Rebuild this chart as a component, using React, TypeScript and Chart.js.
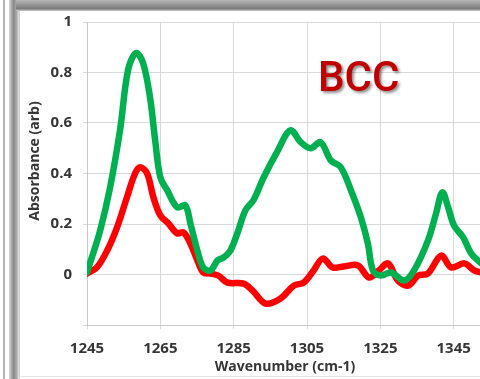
import React, { useEffect, useRef } from "react";
import { Chart, registerables } from "chart.js";

Chart.register(...registerables);

// FTIR absorbance spectra (wavenumber in cm-1)
const greenWavenumbers = [
  1245.0, 1245.8, 1248.6, 1251.3, 1254.0, 1256.2, 1258.4, 1260.3, 1262.2, 1263.6,
  1265.0, 1266.9, 1269.6, 1271.8, 1273.2, 1275.1, 1276.7, 1278.7, 1280.6, 1282.2,
  1284.1, 1286.0, 1288.2, 1290.4, 1293.2, 1297.0, 1300.5, 1303.3, 1306.0, 1308.7,
  1311.5, 1314.2, 1317.0, 1319.7, 1321.6, 1323.0, 1325.2, 1327.9, 1331.5, 1334.2,
  1338.0, 1340.2, 1341.9, 1343.5, 1345.1, 1347.6, 1349.8, 1352.5,
];
const greenAbsorbance = [
  0.008, 0.044, 0.175, 0.345, 0.571, 0.81, 0.877, 0.837, 0.7, 0.53,
  0.385, 0.333, 0.266, 0.274, 0.202, 0.095, 0.028, 0.016, 0.056, 0.067,
  0.095, 0.163, 0.254, 0.294, 0.385, 0.49, 0.571, 0.524, 0.5, 0.524,
  0.452, 0.425, 0.333, 0.226, 0.123, 0.016, -0.004, 0.008, -0.024, 0.016,
  0.135, 0.242, 0.325, 0.266, 0.194, 0.147, 0.083, 0.044,
];

const redWavenumbers = [
  1245.0, 1247.7, 1250.5, 1253.2, 1255.9, 1258.1, 1259.5, 1261.4, 1263.1, 1265.0,
  1267.2, 1269.6, 1271.3, 1273.2, 1275.1, 1276.7, 1278.7, 1280.8, 1283.3, 1287.7,
  1290.1, 1293.7, 1297.8, 1301.4, 1304.1, 1306.8, 1309.3, 1312.0, 1315.0, 1318.9,
  1321.9, 1324.6, 1327.1, 1329.8, 1332.6, 1335.3, 1338.0, 1341.6, 1344.3, 1347.9,
  1350.6, 1352.5,
];
const redAbsorbance = [
  0.004, 0.028, 0.095, 0.187, 0.306, 0.4, 0.425, 0.4, 0.306, 0.234,
  0.202, 0.163, 0.167, 0.123, 0.056, 0.008, 0.004, -0.004, -0.032, -0.036,
  -0.063, -0.115, -0.095, -0.044, -0.032, 0.016, 0.063, 0.028, 0.032, 0.036,
  -0.012, 0.016, 0.044, -0.024, -0.044, -0.004, 0.004, 0.075, 0.028, 0.044,
  0.016, 0.008,
];

const xTickValues = [1245, 1265, 1285, 1305, 1325, 1345];
const yTickValues = [-0.2, 0, 0.2, 0.4, 0.6, 0.8, 1];

const xTitle = "Wavenumber (cm-1)";
const yTitle = "Absorbance (arb)";
const phaseLabel = "BCC";

const TEXT = "#363636";
const GRID = "#d9d9d9";

const toPoints = (xs: number[], ys: number[]) => xs.map((x, i) => ({ x, y: ys[i] }));

const labelsPlugin = {
  id: "spectrumLabels",
  afterDraw(chart: any) {
    const { ctx, chartArea } = chart;
    ctx.save();
    // axis titles
    ctx.fillStyle = TEXT;
    ctx.font = "bold 14px 'Open Sans'";
    ctx.textAlign = "center";
    ctx.textBaseline = "middle";
    ctx.fillText(xTitle, (chartArea.left + chartArea.right) / 2, 367);
    ctx.save();
    ctx.translate(35, 161);
    ctx.rotate(-Math.PI / 2);
    ctx.fillText(yTitle, 0, 0);
    ctx.restore();
    // phase label with drop shadow
    ctx.font = "500 42px Roboto";
    ctx.textAlign = "left";
    ctx.textBaseline = "alphabetic";
    ctx.shadowColor = "rgba(0,0,0,0.45)";
    ctx.shadowOffsetX = 2;
    ctx.shadowOffsetY = 2;
    ctx.shadowBlur = 3;
    ctx.fillStyle = "#c00000";
    ctx.fillText(phaseLabel, 318, 91);
    ctx.restore();
  },
};

export default function App() {
  const canvasRef = useRef<HTMLCanvasElement | null>(null);

  useEffect(() => {
    if (!canvasRef.current) return;
    const lineStyle = {
      borderWidth: 6.5,
      pointRadius: 0,
      tension: 0.35,
      fill: false,
      borderJoinStyle: "round",
      borderCapStyle: "round",
    };
    const chart = new Chart(canvasRef.current, {
      type: "line",
      data: {
        datasets: [
          {
            data: toPoints(greenWavenumbers, greenAbsorbance),
            borderColor: "#00b050",
            ...lineStyle,
          },
          {
            data: toPoints(redWavenumbers, redAbsorbance),
            borderColor: "#ff0000",
            ...lineStyle,
          },
        ],
      },
      options: {
        animation: false,
        responsive: false,
        maintainAspectRatio: false,
        layout: { padding: { top: 22, right: 17, left: 0, bottom: 0 } },
        plugins: { legend: { display: false }, tooltip: { enabled: false } },
        scales: {
          x: {
            type: "linear",
            min: 1245,
            max: 1353,
            afterBuildTicks: (s: any) => {
              s.ticks = xTickValues.map((v) => ({ value: v }));
            },
            afterFit: (s: any) => {
              s.height = 54;
            },
            grid: { color: GRID, tickLength: 4, drawTicks: true },
            border: { color: "#c8c8c8" },
            ticks: {
              color: TEXT,
              font: { family: "'Open Sans'", size: 15, weight: "bold" },
              padding: 11,
              maxRotation: 0,
              autoSkip: false,
              callback: (v: any) => String(v),
            },
          },
          y: {
            min: -0.2,
            max: 1,
            afterBuildTicks: (s: any) => {
              s.ticks = yTickValues.map((v) => ({ value: v }));
            },
            afterFit: (s: any) => {
              s.width = 87;
            },
            grid: { color: GRID, tickLength: 4 },
            border: { color: "#c8c8c8" },
            ticks: {
              color: TEXT,
              font: { family: "'Open Sans'", size: 15, weight: "bold" },
              padding: 11,
              callback: (v: any) => (v < -0.01 ? "" : String(Number(Number(v).toFixed(1)))),
            },
          },
        },
      },
      plugins: [labelsPlugin],
    } as any);
    return () => chart.destroy();
  }, []);

  return (
    <div
      style={{
        position: "absolute",
        left: 0,
        top: 0,
        width: 480,
        height: 379,
        overflow: "hidden",
        background: "#ffffff",
      }}
    >
      {/* window frame edges */}
      <div style={{ position: "absolute", left: 3, top: 0, width: 2, height: 379, background: "#b5b5b5" }} />
      <div
        style={{
          position: "absolute",
          left: 9,
          top: 0,
          width: 10,
          height: 379,
          background: "linear-gradient(to right, #d8d8d8, #8a8a8a 45%, #a8a8a8 75%, #e6e6e6)",
        }}
      />
      <div
        style={{
          position: "absolute",
          left: 16,
          top: 0,
          width: 464,
          height: 11,
          background: "linear-gradient(to bottom, #b8b8b8, #7a7a7a 80%, #cfcfcf)",
        }}
      />
      <div style={{ position: "absolute", left: 19, top: 11, width: 1, height: 368, background: "#cfcfcf" }} />
      <div style={{ position: "absolute", left: 19, top: 376, width: 461, height: 1, background: "#e6e6e6" }} />
      <canvas
        ref={canvasRef}
        width={500}
        height={379}
        style={{ position: "absolute", left: 0, top: 0, width: 500, height: 379 }}
      />
    </div>
  );
}
